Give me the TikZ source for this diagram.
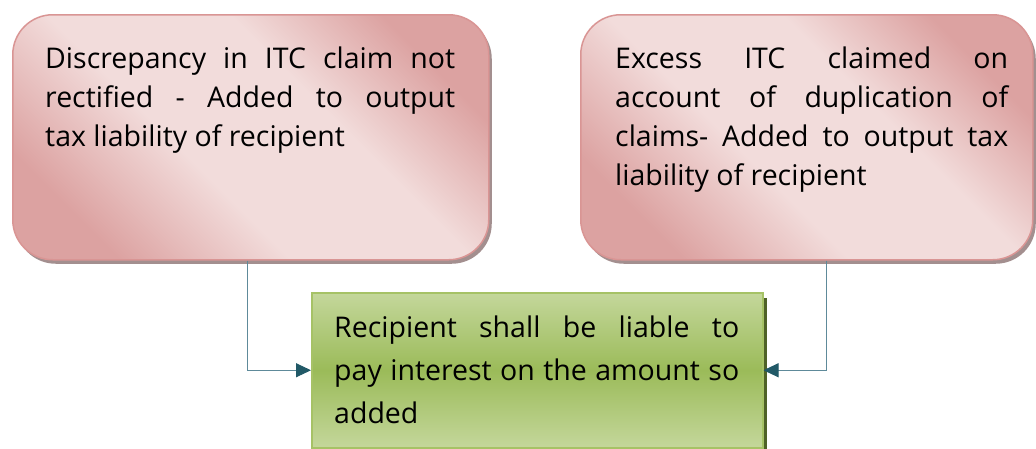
\documentclass[tikz,border=0pt]{standalone}
\usepackage{fontspec}
\setmainfont{Open Sans}
\usepackage{tikz}
\usetikzlibrary{
    positioning,
    arrows.meta,
    shadows
}

\definecolor{pinkEdge}{HTML}{D99594}
\definecolor{pinkDark}{HTML}{DCA2A1}
\definecolor{pinkLight}{HTML}{F2DCDB}
\definecolor{pinkShadow}{HTML}{A38F8F}
\definecolor{greenTop}{HTML}{C4D79B}
\definecolor{greenMid}{HTML}{9BBB59}
\definecolor{greenEdge}{HTML}{A6C266}
\definecolor{greenShadow}{HTML}{4F6228}
\definecolor{linkLine}{HTML}{5E8A9A}
\definecolor{linkTip}{HTML}{215967}

\pgfdeclarehorizontalshading{pinkGloss}{100bp}{
    color(0bp)=(pinkDark); color(25bp)=(pinkDark);
    color(42bp)=(pinkLight); color(60bp)=(pinkLight);
    color(75bp)=(pinkDark); color(100bp)=(pinkDark)}

\begin{document}
\begin{tikzpicture}[x=1pt,y=-1pt,
    issueBox/.style={rounded corners=40pt, draw=pinkEdge, line width=1.5pt,
        shade, shading=pinkGloss, shading angle=45,
        drop shadow={shadow xshift=3pt, shadow yshift=-4pt, fill=pinkShadow, opacity=1},
        minimum height=245pt, inner sep=0pt},
    issueText/.style={text width=410pt, align=justify, inner sep=0pt,
        font=\fontsize{28.5}{39}\selectfont},
    outcomeBox/.style={draw=greenEdge, line width=1.5pt,
        top color=greenTop, bottom color=greenTop, middle color=greenMid,
        drop shadow={shadow xshift=4pt, shadow yshift=-5pt, fill=greenShadow, opacity=1},
        minimum width=451pt, minimum height=155pt, inner sep=0pt},
    outcomeText/.style={text width=405pt, align=justify, inner sep=0pt,
        font=\fontsize{28.5}{43}\selectfont},
    link/.style={draw=linkLine, line width=1pt,
        -{Triangle[length=15pt, width=14pt, fill=linkTip, color=linkTip]}}
]

\useasboundingbox (0,0) rectangle (1036,448);

\node[issueBox, minimum width=476pt, anchor=north west] (discBox) at (12,14) {};
\node[issueText, below right=33pt and 33pt of discBox.north west] (discText)
    {Discrepancy in ITC claim not\linebreak rectified - Added to output\linebreak tax liability of recipient};

\node[issueBox, minimum width=452pt, anchor=north west] (excessBox) at (580,14) {};
\node[issueText, text width=393pt, below right=33pt and 35pt of excessBox.north west] (excessText)
    {Excess ITC claimed on\linebreak account of duplication of\linebreak claims- Added to output tax\linebreak liability of recipient};

\node[outcomeBox, anchor=north west] (interest) at (311,292) {};
\node[outcomeText, below right=24pt and 23pt of interest.north west] (interestText)
    {Recipient shall be liable to\linebreak pay interest on the amount so\linebreak added};

\draw[link] ([xshift=-3pt]discBox.south) |- (interest.west);
\draw[link] ([xshift=20pt]excessBox.south) |- (interest.east);

\end{tikzpicture}
\end{document}
